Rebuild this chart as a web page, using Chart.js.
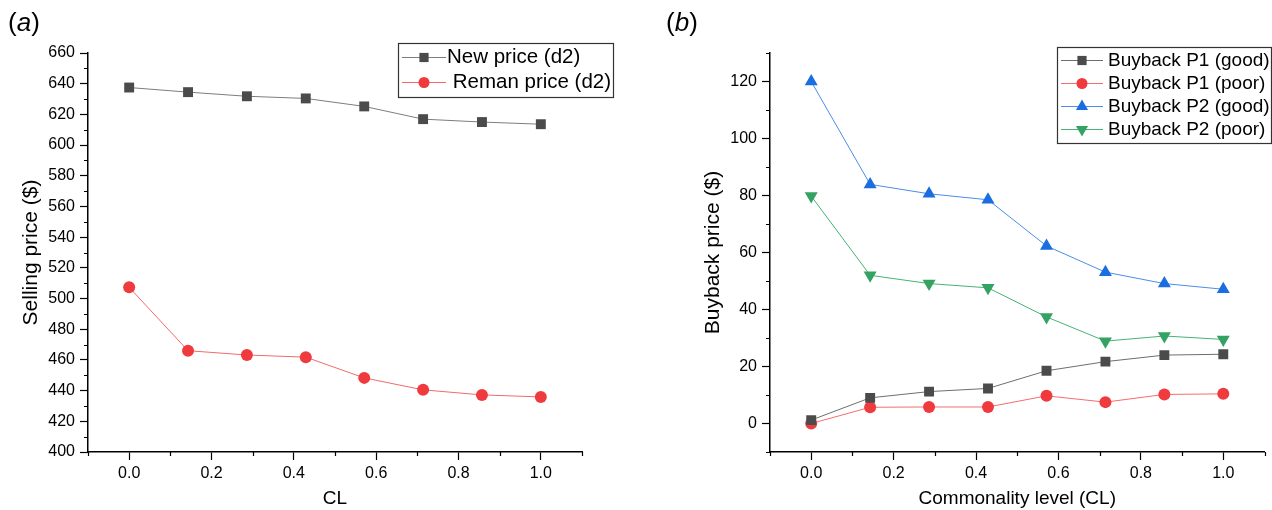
<!DOCTYPE html>
<html>
<head>
<meta charset="utf-8">
<script src="https://cdn.jsdelivr.net/npm/chart.js@4.4.1/dist/chart.umd.min.js"></script>
<style>
  body { margin: 0; background: #fff; }
  #wrap { position: relative; width: 1272px; height: 510px; }
  .panel { position: absolute; top: 0; width: 636px; height: 510px; }
  .tag { position: absolute; top: 7px; font: 26px 'Liberation Sans', Arial, sans-serif; color: #000; }
</style>
</head>
<body>
<div id="wrap">
  <div class="panel" style="left:0"><canvas id="chartA"></canvas></div>
  <div class="panel" style="left:636px"><canvas id="chartB"></canvas></div>
  <div class="tag" style="left:8px">(<i>a</i>)</div>
  <div class="tag" style="left:666px">(<i>b</i>)</div>
</div>
<script>
// commonality level (x positions of the 8 cases)
const CL = [0, 0.143, 0.286, 0.429, 0.571, 0.714, 0.857, 1.0];

// panel (a)
const newPrice = [637.5, 634.5, 631.8, 630.4, 625.2, 616.9, 615, 613.6];
const remanPrice = [507.3, 466, 463.2, 461.8, 448.3, 440.5, 437.2, 435.9];

// panel (b)
const p1Good = [1.2, 9, 11.2, 12.3, 18.5, 21.7, 24, 24.3];
const p1Poor = [0, 5.7, 5.8, 5.8, 9.7, 7.5, 10.2, 10.4];
const p2Good = [120, 83.9, 80.6, 78.5, 62.3, 53.1, 49.1, 47.1];
const p2Poor = [79.8, 52, 49.1, 47.6, 37.4, 28.9, 30.7, 29.5];

// tick labels
const xTicks = [0, 0.2, 0.4, 0.6, 0.8, 1.0];
const xMinor = [-0.1, 0.1, 0.3, 0.5, 0.7, 0.9, 1.1];
const yTicksA = [400, 420, 440, 460, 480, 500, 520, 540, 560, 580, 600, 620, 640, 660];
const yMinorA = [410, 430, 450, 470, 490, 510, 530, 550, 570, 590, 610, 630, 650];
const yTicksB = [0, 20, 40, 60, 80, 100, 120];
const yMinorB = [-10, 10, 30, 50, 70, 90, 110, 130];

Chart.defaults.font.family = "'Liberation Sans', Arial, sans-serif";
Chart.defaults.color = '#000';

function pts(xs, ys) {
  return xs.map((x, i) => ({x: x, y: ys[i]}));
}

// small ticks between the labelled ones
const minorTicks = {
  id: 'minorTicks',
  afterDraw(chart, args, o) {
    const ctx = chart.ctx;
    const xs = chart.scales.x, ys = chart.scales.y;
    ctx.save();
    ctx.strokeStyle = '#000';
    ctx.lineWidth = 1.2;
    ctx.beginPath();
    o.x.forEach(v => {
      const px = Math.round(xs.getPixelForValue(v)) + 0.5;
      ctx.moveTo(px, xs.top);
      ctx.lineTo(px, xs.top + o.len);
    });
    o.y.forEach(v => {
      const py = Math.round(ys.getPixelForValue(v)) + 0.5;
      ctx.moveTo(ys.right, py);
      ctx.lineTo(ys.right - o.len, py);
    });
    ctx.stroke();
    ctx.restore();
  }
};

// framed legend inside the plot, line + marker + label
const boxLegend = {
  id: 'boxLegend',
  afterDraw(chart, args, o) {
    const ctx = chart.ctx;
    const sets = chart.data.datasets;
    ctx.save();
    ctx.strokeStyle = '#333';
    ctx.lineWidth = 1.2;
    ctx.strokeRect(o.x + 0.5, o.y + 0.5, o.w, o.rowH * sets.length + o.pad * 2);
    ctx.font = o.font;
    ctx.textBaseline = 'middle';
    sets.forEach((ds, i) => {
      const cy = o.y + o.pad + o.rowH * (i + 0.5);
      ctx.strokeStyle = ds.borderColor;
      ctx.lineWidth = 1;
      ctx.beginPath();
      ctx.moveTo(o.x + 4, cy);
      ctx.lineTo(o.x + 4 + o.lineLen, cy);
      ctx.stroke();
      ctx.fillStyle = ds.pointBackgroundColor;
      Chart.helpers.drawPoint(ctx, {
        pointStyle: ds.pointStyle,
        rotation: ds.pointRotation || 0,
        radius: ds.pointRadius - 0.5,
        borderWidth: 0
      }, o.x + 4 + o.lineLen / 2, cy);
      ctx.fillStyle = '#000';
      ctx.fillText(ds.label, o.x + o.textX, cy);
    });
    ctx.restore();
  }
};

function series(label, data, line, marker, style, r, rot) {
  return {
    label: label,
    data: pts(CL, data),
    borderColor: line,
    borderWidth: 1,
    pointStyle: style,
    pointRadius: r,
    pointHoverRadius: r,
    pointRotation: rot || 0,
    pointBackgroundColor: marker,
    pointBorderWidth: 0,
    fill: false,
    tension: 0
  };
}

function axes(yMin, yMax, yTicks, yTitle, yWidth, yTitlePad, xTitle) {
  return {
    x: {
      type: 'linear',
      min: -0.1,
      max: 1.1,
      afterBuildTicks: s => { s.ticks = xTicks.map(v => ({value: v})); },
      afterFit: s => { s.height = 58; },
      ticks: {
        callback: v => v.toFixed(1),
        autoSkip: false,
        maxRotation: 0,
        padding: 4,
        font: {size: 16},
        color: '#000'
      },
      grid: {drawOnChartArea: false, tickLength: 8, tickColor: '#000', tickWidth: 1.2},
      border: {color: '#000', width: 1.5},
      title: {display: true, text: xTitle, font: {size: 19}, padding: {top: 0, bottom: 0}, color: '#000'}
    },
    y: {
      min: yMin,
      max: yMax,
      afterBuildTicks: s => { s.ticks = yTicks.map(v => ({value: v})); },
      afterFit: s => { s.width = yWidth; },
      ticks: {padding: 5, font: {size: 16}, color: '#000'},
      grid: {drawOnChartArea: false, tickLength: 8, tickColor: '#000', tickWidth: 1.2},
      border: {color: '#000', width: 1.5},
      title: {display: true, text: yTitle, font: {size: 21}, padding: {top: yTitlePad, bottom: 0}, color: '#000'}
    }
  };
}

new Chart(document.getElementById('chartA'), {
  type: 'line',
  data: {
    datasets: [
      series('New price (d2)', newPrice, '#7d7d7d', '#4b4b4b', 'rect', 7),
      series(' Reman price (d2)', remanPrice, '#f26a6d', '#ef3a3e', 'circle', 6)
    ]
  },
  options: {
    responsive: true,
    maintainAspectRatio: false,
    animation: false,
    layout: {padding: {top: 53, right: 54, left: 0, bottom: 0}},
    scales: axes(400, 660, yTicksA, 'Selling price ($)', 88, 19, 'CL'),
    plugins: {
      legend: {display: false},
      tooltip: {enabled: false},
      minorTicks: {x: xMinor, y: yMinorA, len: 4},
      boxLegend: {x: 398, y: 43, w: 215, rowH: 25, pad: 2, lineLen: 44, textX: 49, font: "20.5px 'Liberation Sans', Arial, sans-serif"}
    }
  },
  plugins: [minorTicks, boxLegend]
});

new Chart(document.getElementById('chartB'), {
  type: 'line',
  data: {
    datasets: [
      series('Buyback P1 (good)', p1Good, '#6e6e6e', '#4b4b4b', 'rect', 7),
      series('Buyback P1 (poor)', p1Poor, '#f46d70', '#ef3a3e', 'circle', 6),
      series('Buyback P2 (good)', p2Good, '#4a8de9', '#1b6ee0', 'triangle', 7.5),
      series('Buyback P2 (poor)', p2Poor, '#47b374', '#34a262', 'triangle', 7.5, 180)
    ]
  },
  options: {
    responsive: true,
    maintainAspectRatio: false,
    animation: false,
    layout: {padding: {top: 53, right: 7, left: 0, bottom: 0}},
    scales: axes(-10, 130, yTicksB, 'Buyback price ($)', 134, 65, 'Commonality level (CL)'),
    plugins: {
      legend: {display: false},
      tooltip: {enabled: false},
      minorTicks: {x: xMinor, y: yMinorB, len: 4},
      boxLegend: {x: 421, y: 47, w: 214, rowH: 23, pad: 2, lineLen: 42, textX: 51, font: "19px 'Liberation Sans', Arial, sans-serif"}
    }
  },
  plugins: [minorTicks, boxLegend]
});
</script>
</body>
</html>
